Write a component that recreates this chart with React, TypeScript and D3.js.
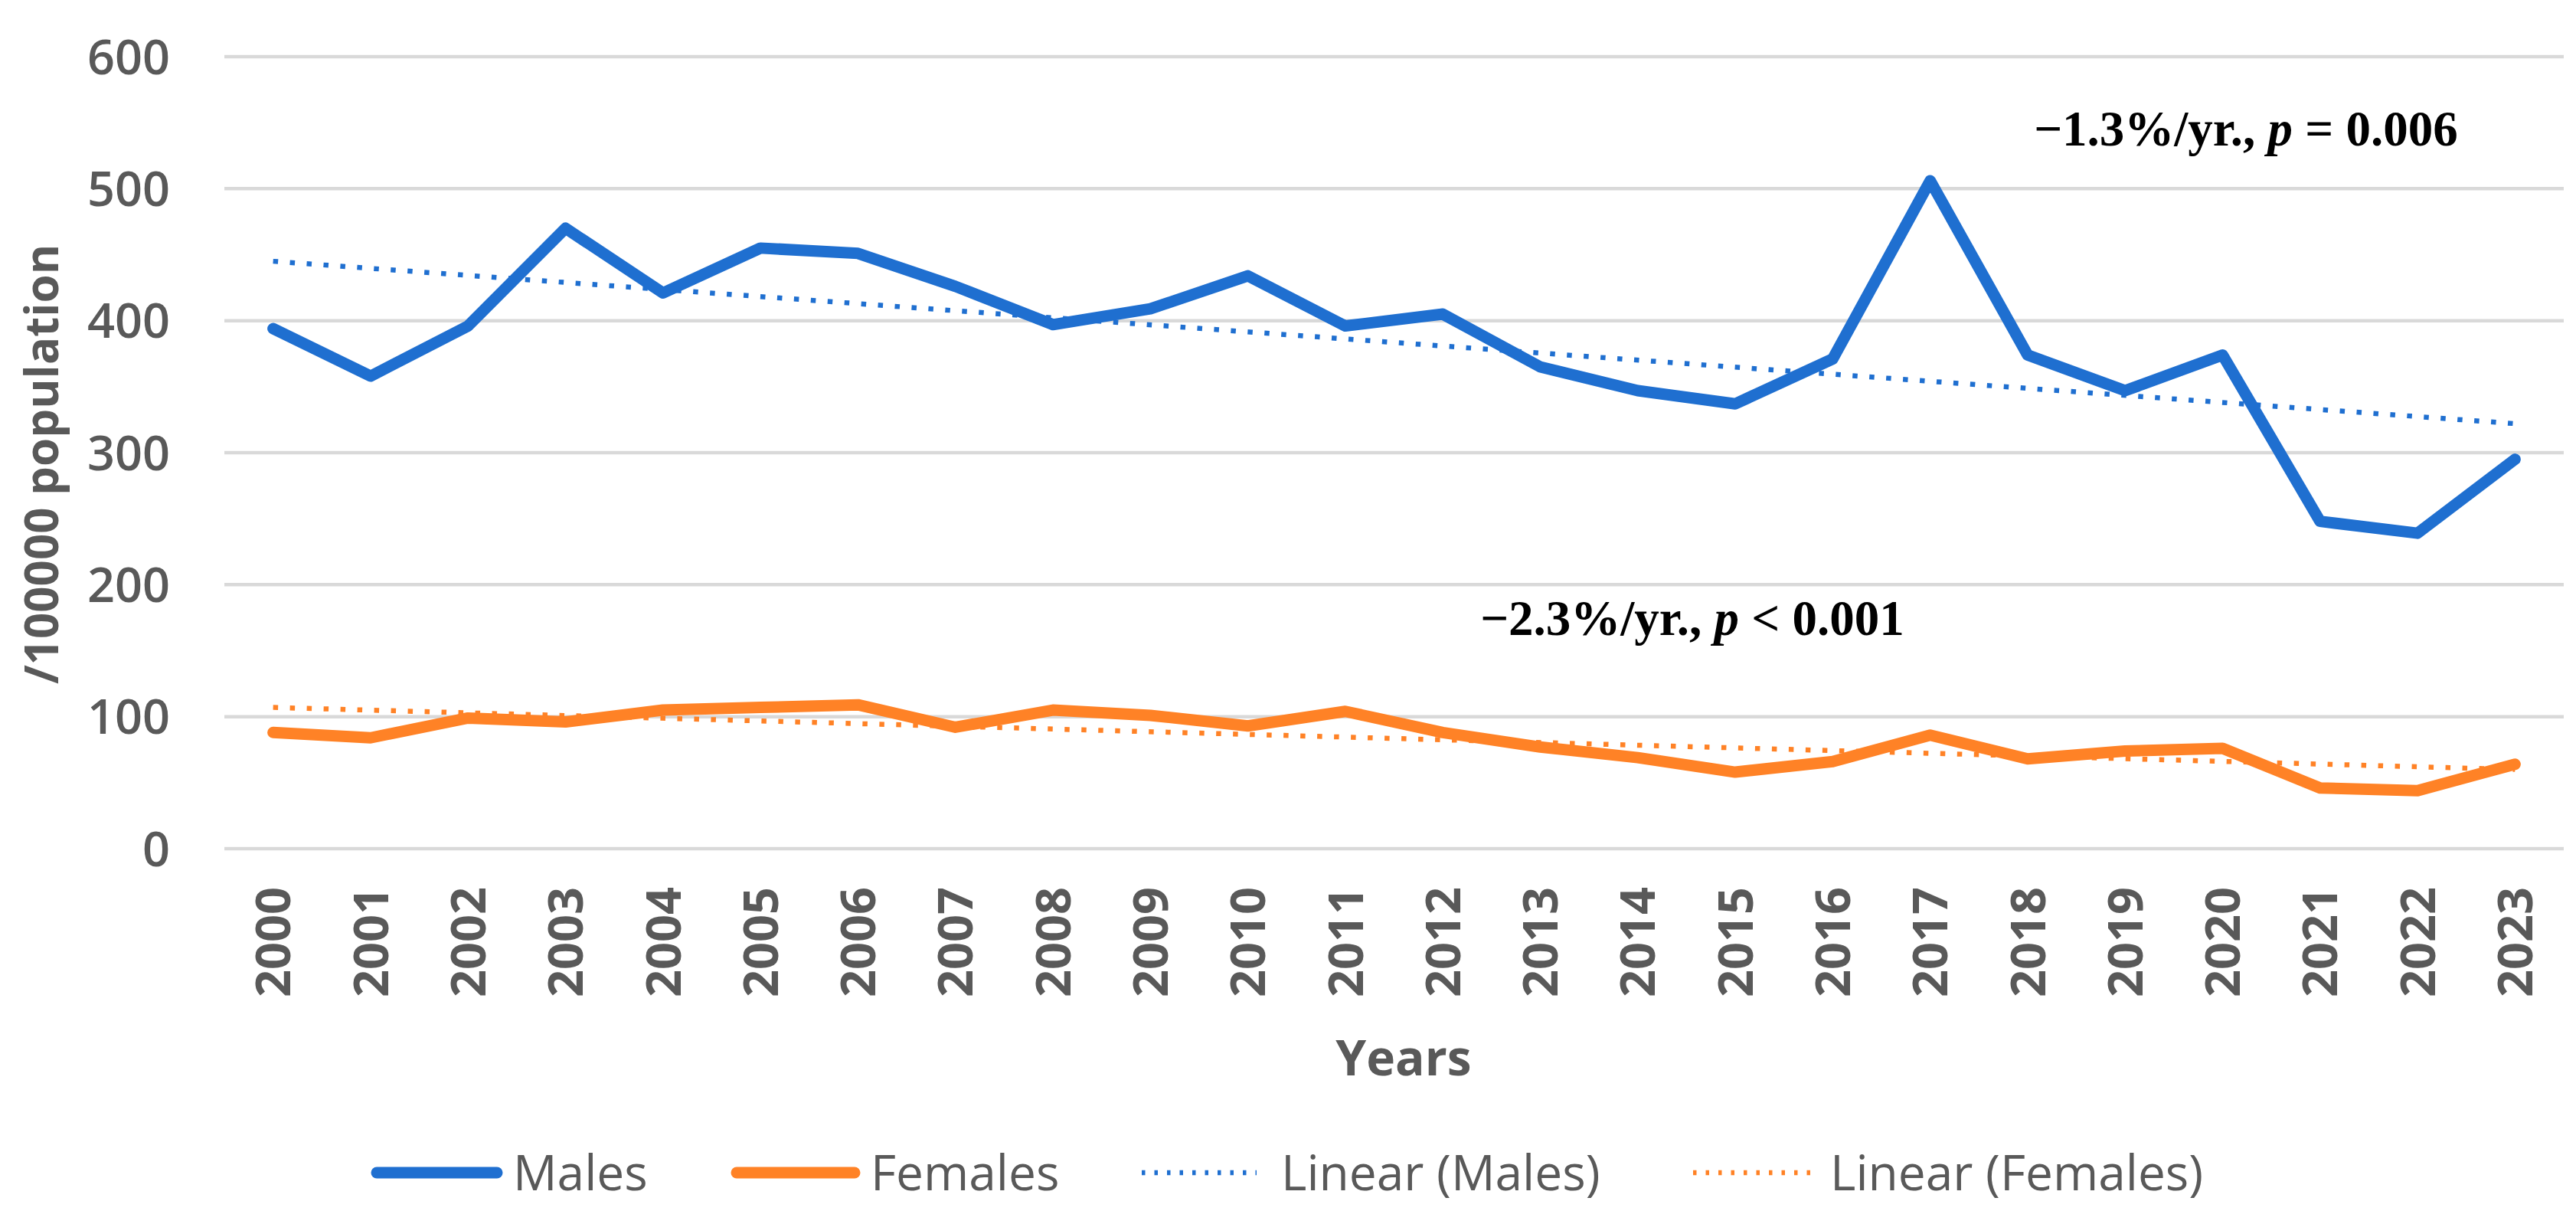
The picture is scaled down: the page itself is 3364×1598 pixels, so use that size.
import * as d3 from "d3";
import { useEffect } from "react";

// values
const years = [
  2000, 2001, 2002, 2003, 2004, 2005, 2006, 2007, 2008, 2009, 2010, 2011,
  2012, 2013, 2014, 2015, 2016, 2017, 2018, 2019, 2020, 2021, 2022, 2023,
];
const males = [
  394, 358, 396, 470, 421, 455, 451, 426, 397, 409, 434, 396, 405, 365, 347,
  337, 371, 506, 374, 347, 374, 248, 239, 295,
];
const females = [
  88, 84, 99, 96, 105, 107, 109, 92, 105, 101, 93, 104, 88, 77, 69, 58, 66,
  86, 68, 74, 76, 46, 44, 64,
];
// linear trend lines, value at first and last year
const malesTrend = [445, 322];
const femalesTrend = [107, 60];
const yTicks = [0, 100, 200, 300, 400, 500, 600];

const BLUE = "#1f6fd0";
const ORANGE = "#ff8226";
const GREY = "#595959";
const SANS = "'Open Sans', 'Noto Sans', sans-serif";
const SERIF = "'Liberation Serif', 'DejaVu Serif', serif";

export default function App() {
  const width = 3364;
  const height = 1598;
  const margin = { left: 293, right: 16, top: 74, bottom: 490 };

  useEffect(() => {
    document.body.style.margin = "0";
  }, []);

  const x = d3
    .scaleBand<number>()
    .domain(years)
    .range([margin.left, width - margin.right])
    .padding(0);
  const cx = (yr: number) => (x(yr) as number) + x.bandwidth() / 2;
  const y = d3
    .scaleLinear()
    .domain([0, 600])
    .range([height - margin.bottom, margin.top]);

  const line = d3
    .line<number>()
    .x((d, i) => cx(years[i]))
    .y((d) => y(d));

  const first = years[0];
  const last = years[years.length - 1];
  const trend = (t: number[]) =>
    `M${cx(first)},${y(t[0])}L${cx(last)},${y(t[1])}`;

  const legendY = 1531;
  const legendFont = 64;

  return (
    <svg
      width={width}
      height={height}
      style={{ position: "absolute", left: 0, top: 0, background: "#fff" }}
    >
      {/* gridlines */}
      {yTicks.map((t) => (
        <line
          key={t}
          x1={margin.left}
          x2={width - margin.right}
          y1={y(t)}
          y2={y(t)}
          stroke="#d9d9d9"
          strokeWidth={4.5}
        />
      ))}

      {/* y tick labels */}
      {yTicks.map((t) => (
        <text
          key={t}
          x={222}
          y={y(t)}
          dy="0.36em"
          textAnchor="end"
          fontFamily={SANS}
          fontWeight={600}
          fontSize={63}
          fill={GREY}
        >
          {t}
        </text>
      ))}

      {/* x tick labels, rotated */}
      {years.map((yr) => (
        <text
          key={yr}
          transform={`translate(${cx(yr)},1158) rotate(-90)`}
          dy="0.36em"
          textAnchor="end"
          fontFamily={SANS}
          fontWeight="bold"
          fontSize={63}
          fill={GREY}
        >
          {yr}
        </text>
      ))}

      {/* axis titles */}
      <text
        transform="translate(54,606) rotate(-90)"
        dy="0.36em"
        textAnchor="middle"
        fontFamily={SANS}
        fontWeight="bold"
        fontSize={60}
        fill={GREY}
      >
        /100000 population
      </text>
      <text
        x={1833}
        y={1404}
        textAnchor="middle"
        fontFamily={SANS}
        fontWeight="bold"
        fontSize={64}
        fill={GREY}
      >
        Years
      </text>

      {/* trend lines */}
      <path
        d={trend(malesTrend)}
        stroke={BLUE}
        strokeWidth={6.5}
        strokeDasharray="6.5 15.5"
        fill="none"
      />
      <path
        d={trend(femalesTrend)}
        stroke={ORANGE}
        strokeWidth={6.5}
        strokeDasharray="6.5 15.5"
        fill="none"
      />

      {/* data lines */}
      <path
        d={line(females) ?? ""}
        stroke={ORANGE}
        strokeWidth={15}
        strokeLinejoin="round"
        strokeLinecap="round"
        fill="none"
      />
      <path
        d={line(males) ?? ""}
        stroke={BLUE}
        strokeWidth={15}
        strokeLinejoin="round"
        strokeLinecap="round"
        fill="none"
      />

      {/* annotations */}
      <text
        x={2656}
        y={190}
        fontFamily={SERIF}
        fontWeight="bold"
        fontSize={65}
        fill="#000"
      >
        −1.3%/yr.,{" "}
        <tspan fontStyle="italic">p</tspan> = 0.006
      </text>
      <text
        x={1933}
        y={829}
        fontFamily={SERIF}
        fontWeight="bold"
        fontSize={65}
        fill="#000"
      >
        −2.3%/yr.,{" "}
        <tspan fontStyle="italic">p</tspan> &lt; 0.001
      </text>

      {/* legend */}
      <g fontFamily={SANS} fontSize={legendFont} fill={GREY}>
        <line
          x1={492}
          x2={649}
          y1={legendY}
          y2={legendY}
          stroke={BLUE}
          strokeWidth={15}
          strokeLinecap="round"
        />
        <text x={670} y={legendY} dy="0.36em">
          Males
        </text>
        <line
          x1={962}
          x2={1116}
          y1={legendY}
          y2={legendY}
          stroke={ORANGE}
          strokeWidth={15}
          strokeLinecap="round"
        />
        <text x={1137} y={legendY} dy="0.36em">
          Females
        </text>
        <line
          x1={1491}
          x2={1641}
          y1={legendY}
          y2={legendY}
          stroke={BLUE}
          strokeWidth={6.5}
          strokeDasharray="4.5 12"
        />
        <text x={1673} y={legendY} dy="0.36em">
          Linear (Males)
        </text>
        <line
          x1={2211}
          x2={2364}
          y1={legendY}
          y2={legendY}
          stroke={ORANGE}
          strokeWidth={6.5}
          strokeDasharray="4.5 12"
        />
        <text x={2390} y={legendY} dy="0.36em">
          Linear (Females)
        </text>
      </g>
    </svg>
  );
}
